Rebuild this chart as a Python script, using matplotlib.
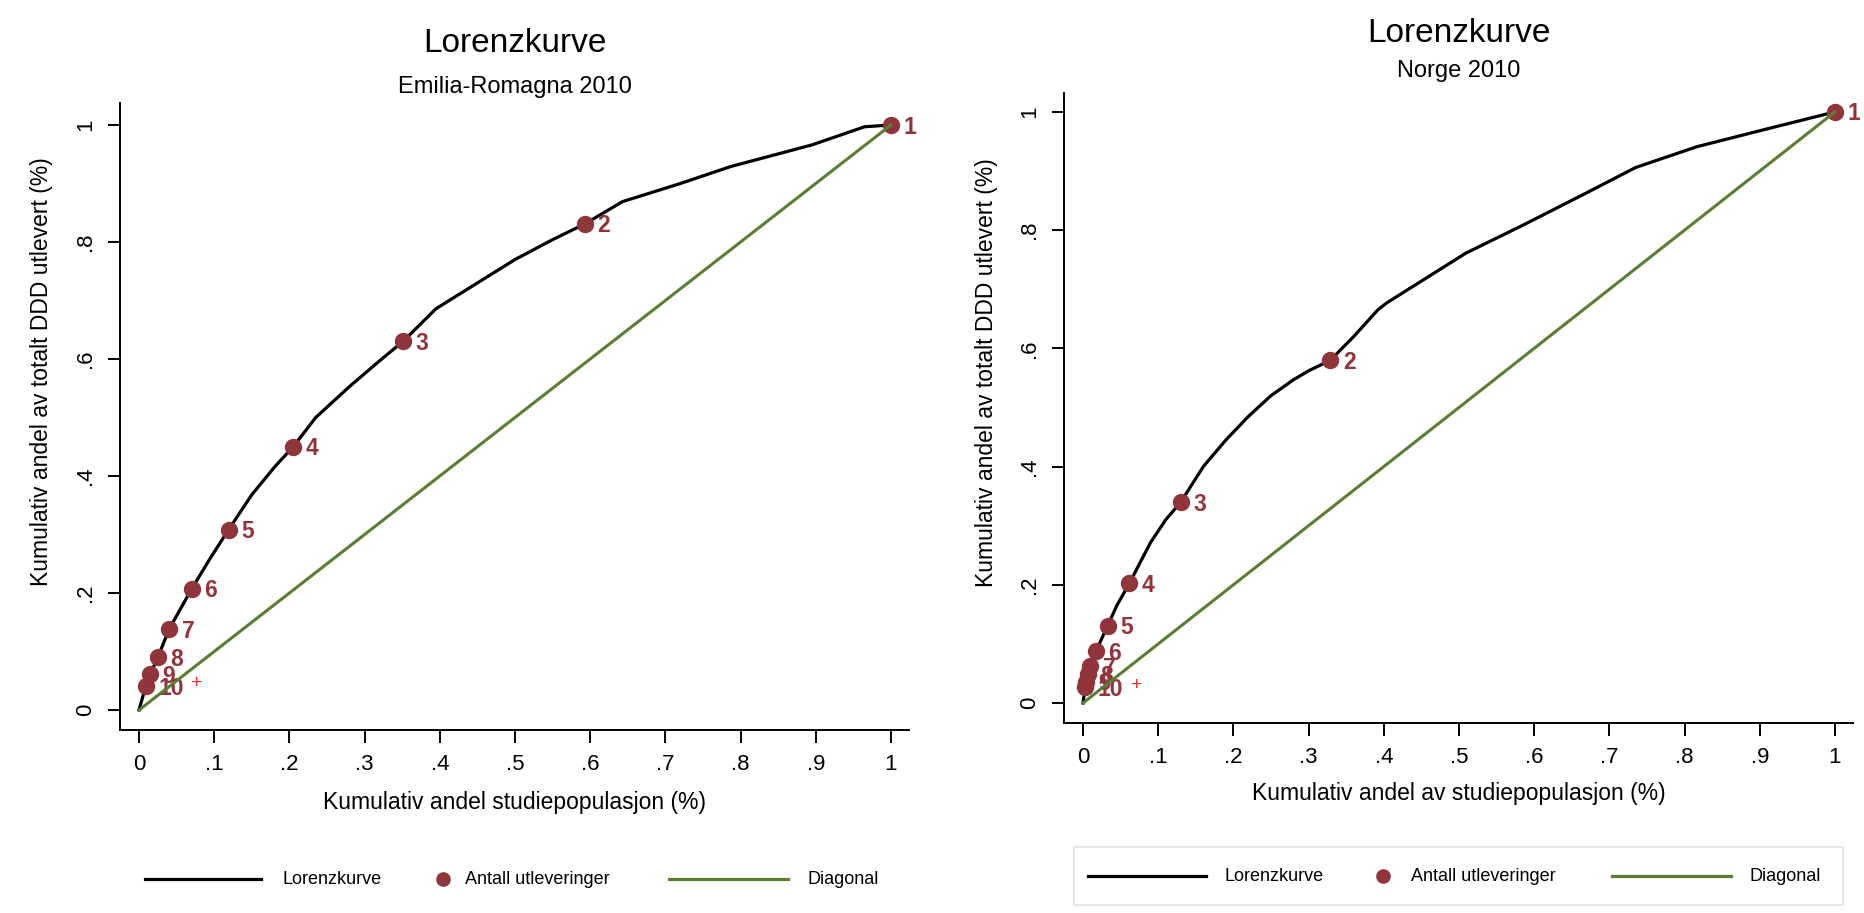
import matplotlib
matplotlib.use("Agg")
import matplotlib.pyplot as plt
from matplotlib.lines import Line2D
from matplotlib.patches import Rectangle

plt.rcParams['font.family'] = ['Liberation Sans', 'DejaVu Sans']

# ---- data -------------------------------------------------------------
# Emilia-Romagna 2010
er_curve_x = [0, 0.009, 0.015, 0.025, 0.04, 0.07, 0.095, 0.119, 0.15, 0.18, 0.205,
              0.235, 0.28, 0.32, 0.351, 0.395, 0.45, 0.5, 0.55, 0.593, 0.643, 0.72,
              0.787, 0.895, 0.965, 1.0]
er_curve_y = [0, 0.041, 0.0615, 0.09, 0.138, 0.207, 0.26, 0.308, 0.368, 0.415, 0.45,
              0.50, 0.553, 0.597, 0.63, 0.686, 0.73, 0.77, 0.804, 0.831, 0.869, 0.90,
              0.929, 0.966, 0.997, 1.0]
er_pts_x = [1.0, 0.593, 0.351, 0.205, 0.119, 0.0705, 0.040, 0.0248, 0.0146, 0.0089]
er_pts_y = [1.0, 0.831, 0.630, 0.450, 0.308, 0.207, 0.138, 0.090, 0.0615, 0.041]

# Norge 2010
no_curve_x = [0, 0.0027, 0.004, 0.0062, 0.0093, 0.0173, 0.0328, 0.045, 0.0616, 0.09,
              0.11, 0.13, 0.16, 0.19, 0.22, 0.25, 0.28, 0.30, 0.329, 0.36, 0.392,
              0.404, 0.509, 0.586, 0.668, 0.735, 0.816, 0.912, 1.0]
no_curve_y = [0, 0.0266, 0.036, 0.0485, 0.0626, 0.088, 0.131, 0.165, 0.2025, 0.272,
              0.31, 0.34, 0.40, 0.445, 0.485, 0.52, 0.547, 0.562, 0.58, 0.62, 0.665,
              0.677, 0.761, 0.809, 0.862, 0.906, 0.941, 0.972, 1.0]
no_pts_x = [1.0, 0.329, 0.130, 0.0616, 0.0328, 0.0173, 0.0093, 0.0062, 0.004, 0.0027]
no_pts_y = [1.0, 0.580, 0.340, 0.2025, 0.131, 0.088, 0.0626, 0.0485, 0.036, 0.0266]

pt_labels = ["1", "2", "3", "4", "5", "6", "7", "8", "9", "10"]

ticks_x = [0, .1, .2, .3, .4, .5, .6, .7, .8, .9, 1]
ticklabels_x = ["0", ".1", ".2", ".3", ".4", ".5", ".6", ".7", ".8", ".9", "1"]
ticks_y = [0, .2, .4, .6, .8, 1]
ticklabels_y = ["0", ".2", ".4", ".6", ".8", "1"]

legend_labels = ["Lorenzkurve", "Antall utleveringer", "Diagonal"]

BLACK = "#000000"
RED = "#90353B"
GREEN = "#5A7D34"

W, H = 1865, 913
fig = plt.figure(figsize=(W / 100, H / 100), dpi=100)


def px(x, y):
    # pixel (from top-left) -> figure fraction
    return x / W, 1 - y / H


def panel(rect, cx, cy, px_, py_, ylim, title_y, sub, sub_y, xlab, xlab_y, ylab_x, ylab_y):
    ax = fig.add_axes(rect)
    ax.plot(cx, cy, color=BLACK, lw=2.3, zorder=2)
    ax.plot(px_, py_, 'o', color=RED, ms=11.5, mec=RED, zorder=3)
    for x, y, s in zip(px_, py_, pt_labels):
        ax.annotate(s, (x, y), xytext=(9, -1.5), textcoords='offset points',
                    ha='left', va='center', color=RED, fontsize=16.5,
                    fontweight='bold', zorder=3)
    ax.annotate("+", (px_[-1], py_[-1]), xytext=(37, 1.5), textcoords='offset points',
                ha='center', va='center', color="#E03030", fontsize=14, zorder=3)
    ax.plot([0, 1], [0, 1], color=GREEN, lw=2.2, zorder=4)

    ax.set_xlim(-0.0253, 1.024)
    ax.set_ylim(*ylim)
    for s in ["top", "right"]:
        ax.spines[s].set_visible(False)
    for s in ["left", "bottom"]:
        ax.spines[s].set_linewidth(1.4)
    ax.set_xticks(ticks_x)
    ax.set_xticklabels(ticklabels_x)
    ax.set_yticks(ticks_y)
    ax.set_yticklabels(ticklabels_y, rotation=90, va='center')
    ax.tick_params(length=9, width=1.4, labelsize=16, pad=8)

    cxp = rect[0] + rect[2] * (0.5 + 0.0253) / 1.0493
    fig.text(cxp, 1 - title_y / H, "Lorenzkurve", ha='center', va='center', fontsize=24)
    fig.text(cxp, 1 - sub_y / H, sub, ha='center', va='center', fontsize=17)
    fig.text(cxp, 1 - xlab_y / H, xlab, ha='center', va='center', fontsize=16.5)
    fig.text(ylab_x / W, 1 - ylab_y / H, "Kumulativ andel av totalt DDD utlevert (%)",
             ha='center', va='center', rotation=90, fontsize=16.5)
    return ax


panel([120 / W, (H - 730) / H, 789 / W, 627 / H], er_curve_x, er_curve_y, er_pts_x, er_pts_y,
      (-0.0342, 1.0376), 44, "Emilia-Romagna 2010", 87,
      "Kumulativ andel studiepopulasjon (%)", 803, 42, 372)
panel([1064 / W, (H - 723) / H, 789 / W, 630 / H], no_curve_x, no_curve_y, no_pts_x, no_pts_y,
      (-0.0338, 1.032), 33, "Norge 2010", 71,
      "Kumulativ andel av studiepopulasjon (%)", 793, 987, 373)


def legend_row(y, line1, t1, dot, t2, line2, t3, box=None):
    if box is not None:
        x0, y0, x1, y1 = box
        fig.add_artist(Rectangle(px(x0, y1), (x1 - x0) / W, (y1 - y0) / H,
                                 transform=fig.transFigure, fill=False,
                                 ec="#DCE4E8", lw=1.2))
    fy = 1 - y / H
    fig.add_artist(Line2D([line1[0] / W, line1[1] / W], [fy, fy], color=BLACK, lw=2.3))
    fig.text(t1 / W, fy, legend_labels[0], ha='left', va='center', fontsize=13)
    fig.add_artist(Line2D([dot / W], [fy], marker='o', color=RED, ms=9.5, ls='none'))
    fig.text(t2 / W, fy, legend_labels[1], ha='left', va='center', fontsize=13)
    fig.add_artist(Line2D([line2[0] / W, line2[1] / W], [fy, fy], color=GREEN, lw=2.3))
    fig.text(t3 / W, fy, legend_labels[2], ha='left', va='center', fontsize=13)


legend_row(879, (145, 261), 283, 443, 465, (669, 788), 808)
legend_row(876, (1088, 1206), 1225, 1383, 1411, (1612, 1731), 1750,
           box=(1074, 847, 1843, 905))

fig.savefig("out.png", dpi=100, facecolor="white")
